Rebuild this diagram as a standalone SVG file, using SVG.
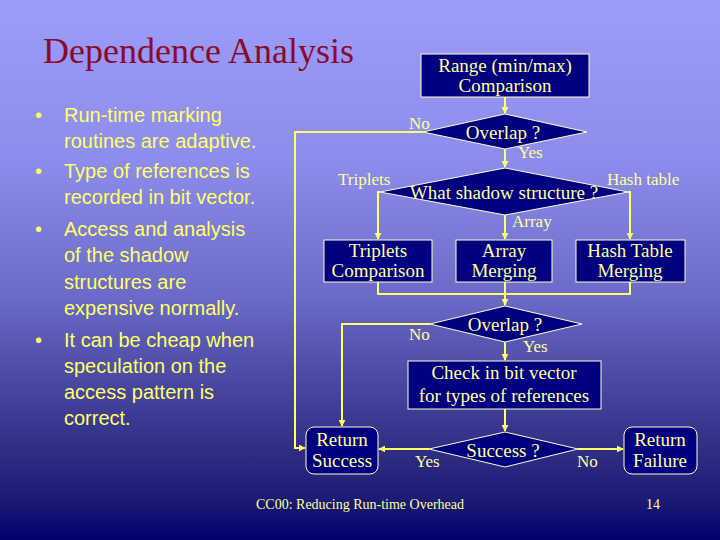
<svg xmlns="http://www.w3.org/2000/svg" width="720" height="540" viewBox="0 0 720 540">
<defs>
<linearGradient id="bg" x1="0" y1="0" x2="0" y2="1">
<stop offset="0" stop-color="#9c9cfa"/>
<stop offset="0.3" stop-color="#8c8cec"/>
<stop offset="0.55" stop-color="#6a6ac8"/>
<stop offset="0.8" stop-color="#35358c"/>
<stop offset="0.93" stop-color="#1a1a72"/>
<stop offset="1" stop-color="#00006e"/>
</linearGradient>
<marker id="arr" viewBox="0 0 10 10" refX="9" refY="5" markerWidth="7" markerHeight="7" markerUnits="userSpaceOnUse" orient="auto">
<path d="M0,0 L10,5 L0,10 Z" fill="#ffff66"/>
</marker>
<style>
.box{fill:#000080;stroke:#ffffcc;stroke-width:1}
.t{font-family:"Liberation Serif","Times New Roman",serif;font-size:19px;fill:#ffff99;text-anchor:middle}
.lb{font-family:"Liberation Serif","Times New Roman",serif;font-size:17px;fill:#ffff99}
.ln{fill:none;stroke:#ffff66;stroke-width:2}
.bl{font-family:"Liberation Sans",Arial,sans-serif;font-size:20px;fill:#ffff66}
</style>
</defs>
<rect width="720" height="540" fill="url(#bg)"/>
<text x="43" y="63" font-family="'Liberation Serif','Times New Roman',serif" font-size="36" fill="#8b0a2a">Dependence Analysis</text>
<g id="bullets" class="bl">
<text x="35" y="122">•</text><text x="64" y="122">Run-time marking</text>
<text x="64" y="148">routines are adaptive.</text>
<text x="35" y="178">•</text><text x="64" y="178">Type of references is</text>
<text x="64" y="204">recorded in bit vector.</text>
<text x="35" y="236">•</text><text x="64" y="236">Access and analysis</text>
<text x="64" y="262">of the shadow</text>
<text x="64" y="289">structures are</text>
<text x="64" y="315">expensive normally.</text>
<text x="35" y="347">•</text><text x="64" y="347">It can be cheap when</text>
<text x="64" y="373">speculation on the</text>
<text x="64" y="399">access pattern is</text>
<text x="64" y="425">correct.</text>
</g>
<g id="connectors">
<path class="ln" d="M505,97 V113" marker-end="url(#arr)"/>
<path class="ln" d="M505,149 V167" marker-end="url(#arr)"/>
<path class="ln" d="M423,132 H295 V448 H305" marker-end="url(#arr)"/>
<path class="ln" d="M380,192 H378 V239" marker-end="url(#arr)"/>
<path class="ln" d="M628,192 H630 V239" marker-end="url(#arr)"/>
<path class="ln" d="M505,215 V239" marker-end="url(#arr)"/>
<path class="ln" d="M378,282 V294 H630 V282"/>
<path class="ln" d="M505,282 V305" marker-end="url(#arr)"/>
<path class="ln" d="M430,324 H342 V426" marker-end="url(#arr)"/>
<path class="ln" d="M505,342 V360" marker-end="url(#arr)"/>
<path class="ln" d="M505,409 V431" marker-end="url(#arr)"/>
<path class="ln" d="M429,449 H379" marker-end="url(#arr)"/>
<path class="ln" d="M578,449 H623" marker-end="url(#arr)"/>
</g>
<g id="range">
<rect class="box" x="421" y="54" width="168" height="43"/>
<text class="t" x="505" y="72">Range (min/max)</text>
<text class="t" x="505" y="92">Comparison</text>
</g>
<g id="overlap1">
<polygon class="box" points="423,132 505,114 587,132 505,149"/>
<text class="t" x="503" y="139">Overlap ?</text>
</g>
<g id="shadow">
<polygon class="box" points="380,192 505,168 628,192 505,215"/>
<text class="t" x="504" y="199">What shadow structure ?</text>
</g>
<g id="triplets">
<rect class="box" x="324" y="240" width="108" height="42"/>
<text class="t" x="378" y="257">Triplets</text>
<text class="t" x="378" y="277">Comparison</text>
</g>
<g id="array">
<rect class="box" x="456" y="240" width="96" height="42"/>
<text class="t" x="504" y="257">Array</text>
<text class="t" x="504" y="277">Merging</text>
</g>
<g id="hash">
<rect class="box" x="576" y="240" width="109" height="42"/>
<text class="t" x="630" y="257">Hash Table</text>
<text class="t" x="630" y="277">Merging</text>
</g>
<g id="overlap2">
<polygon class="box" points="430,324 505,306 582,324 505,342"/>
<text class="t" x="505" y="331">Overlap ?</text>
</g>
<g id="check">
<rect class="box" x="408" y="361" width="193" height="48"/>
<text class="t" x="504" y="379">Check in bit vector</text>
<text class="t" x="504" y="402">for types of references</text>
</g>
<g id="success">
<polygon class="box" points="429,449 505,432 578,449 505,467"/>
<text class="t" x="503" y="457">Success ?</text>
</g>
<g id="retsuccess">
<rect class="box" x="306" y="427" width="72" height="47" rx="8"/>
<text class="t" x="342" y="446">Return</text>
<text class="t" x="342" y="467">Success</text>
</g>
<g id="retfailure">
<rect class="box" x="624" y="427" width="73" height="47" rx="8"/>
<text class="t" x="660" y="446">Return</text>
<text class="t" x="660" y="467">Failure</text>
</g>
<g id="labels" class="lb">
<text x="409" y="129">No</text>
<text x="518" y="158">Yes</text>
<text x="338" y="185">Triplets</text>
<text x="607" y="185">Hash table</text>
<text x="512" y="227">Array</text>
<text x="409" y="340">No</text>
<text x="523" y="352">Yes</text>
<text x="415" y="467">Yes</text>
<text x="577" y="467">No</text>
</g>
<text x="256" y="509" font-family="'Liberation Serif','Times New Roman',serif" font-size="14" fill="#ffff99" textLength="208" lengthAdjust="spacingAndGlyphs">CC00: Reducing Run-time Overhead</text>
<text x="646" y="509" font-family="'Liberation Serif','Times New Roman',serif" font-size="14" fill="#ffff99">14</text>
</svg>
